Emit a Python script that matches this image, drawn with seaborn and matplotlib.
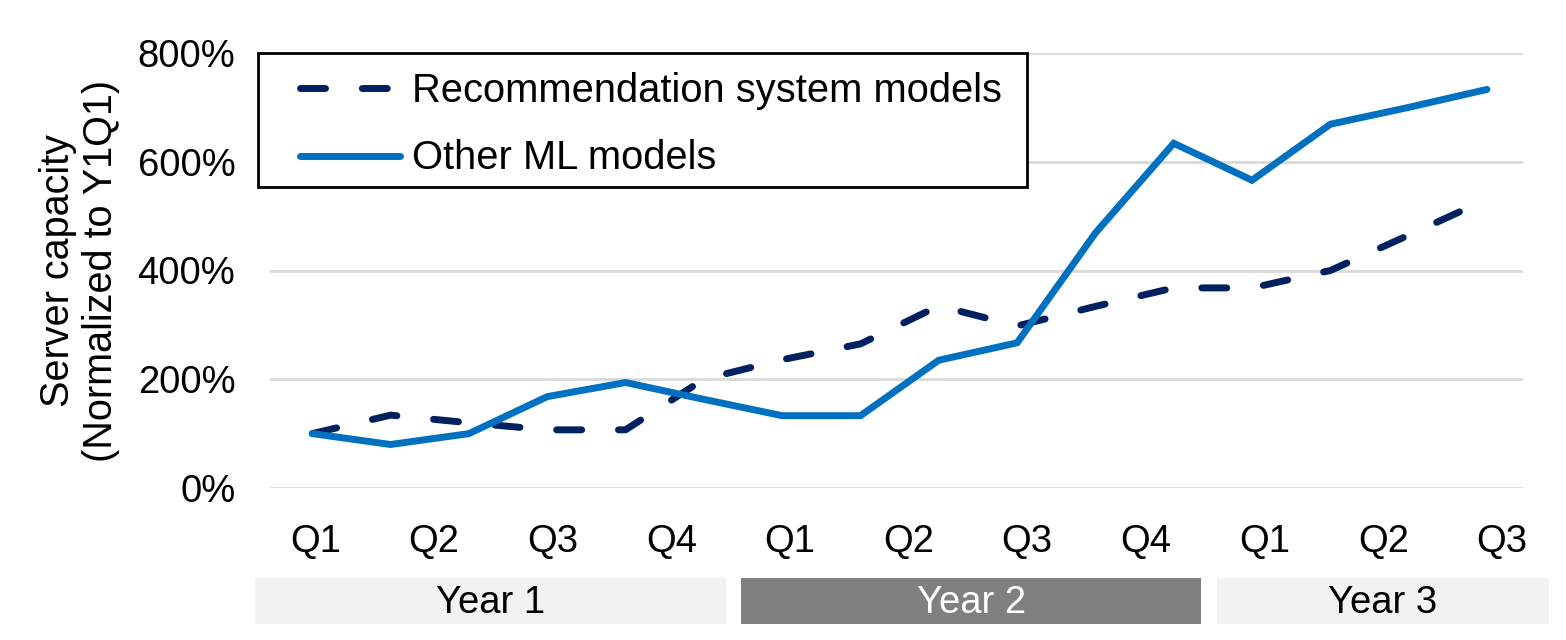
import numpy as np
import pandas as pd
import matplotlib
matplotlib.use("Agg")
import matplotlib.pyplot as plt
from matplotlib.patches import Rectangle
from matplotlib.lines import Line2D
import seaborn as sns

# ---------- DATA ----------
recsys = [100, 134, 120, 107, 107, 200, 236, 265, 335, 298, 334, 368, 368, 400, 465, 531]
other_ml = [100, 80, 100, 168, 194, 163, 133, 133, 235, 267, 469, 634, 566, 669, 700, 733]
quarter_labels = ["Q1", "Q2", "Q3", "Q4", "Q1", "Q2", "Q3", "Q4", "Q1", "Q2", "Q3"]
year_labels = ["Year 1", "Year 2", "Year 3"]
series_names = ["Recommendation system models", "Other ML models"]

# ---------- STYLE ----------
sns.set_style("white")
plt.rcParams["font.family"] = ["Liberation Sans", "DejaVu Sans"]
plt.rcParams["text.color"] = "black"
plt.rcParams["axes.labelcolor"] = "black"
plt.rcParams["xtick.color"] = "black"
plt.rcParams["ytick.color"] = "black"
FS = 27.5
FS_LEG = 28.7
NAVY = "#002060"
BLUE = "#0070C0"
DASH = (3.6, 5.3)

df = pd.DataFrame({
    "step": list(range(len(recsys))) * 2,
    "capacity": recsys + other_ml,
    "series": [series_names[0]] * len(recsys) + [series_names[1]] * len(other_ml),
})

fig = plt.figure(figsize=(15.66, 6.4), dpi=100)
ax = fig.add_axes([270 / 1566, 1 - 488 / 640, 1253 / 1566, 435 / 640])

sns.lineplot(data=df, x="step", y="capacity", hue="series", style="series",
             palette={series_names[0]: NAVY, series_names[1]: BLUE},
             dashes={series_names[0]: DASH, series_names[1]: ""},
             linewidth=5, legend=False, ax=ax,
             dash_capstyle="round", solid_capstyle="round", solid_joinstyle="miter")

ax.set_xlim(-0.54, 15.46)
ax.set_ylim(0, 800)
ax.set_yticks([0, 200, 400, 600, 800])
ax.set_yticklabels([f"{v}%" for v in [0, 200, 400, 600, 800]])
# quarter labels sit slightly off the data points in the original
ax.set_xticks(np.linspace(0.04, 15.19, len(quarter_labels)))
ax.set_xticklabels(quarter_labels)
ax.tick_params(axis="both", length=0, labelsize=FS, labelcolor="black")
ax.tick_params(axis="y", pad=25)
ax.tick_params(axis="x", pad=26)
ax.grid(axis="y", color="#d9d9d9", linewidth=2)
ax.grid(axis="x", visible=False)
sns.despine(ax=ax, left=True, bottom=True)
ax.set_xlabel("")
ax.set_ylabel("Server capacity\n(Normalized to Y1Q1)", fontsize=28.5, linespacing=1.17)
ax.yaxis.set_label_coords(-0.12, 0.5)

# ---------- LEGEND (frame drawn as a separate box) ----------
frame = Rectangle((-12 / 1253, 1 - 134 / 435), 769 / 1253, 134 / 435,
                  transform=ax.transAxes, facecolor="white", edgecolor="black",
                  linewidth=2, clip_on=False, zorder=3)
ax.add_patch(frame)
handles = [
    Line2D([], [], color=NAVY, linewidth=5, dashes=DASH, dash_capstyle="round"),
    Line2D([], [], color=BLUE, linewidth=5, solid_capstyle="round"),
]
leg = ax.legend(handles, series_names, loc="upper left", bbox_to_anchor=(30 / 1253, 1 - 19 / 435),
                frameon=False, fontsize=FS_LEG, handlelength=2.5, handletextpad=0.3,
                labelspacing=0.74, borderpad=0, borderaxespad=0)
leg.set_zorder(4)

# ---------- YEAR BANDS ----------
band_x = [(255, 726), (741, 1201), (1217, 1549)]
band_face = ["#f2f2f2", "#808080", "#f2f2f2"]
band_text = ["black", "white", "black"]
for (x0, x1), label, fc, tc in zip(band_x, year_labels, band_face, band_text):
    fig.add_artist(Rectangle((x0 / 1566, 1 - 624 / 640), (x1 - x0) / 1566, 46 / 640,
                             transform=fig.transFigure, facecolor=fc, edgecolor="none"))
    fig.text((x0 + x1) / 2 / 1566, 1 - 603 / 640, label, ha="center", va="center",
             fontsize=FS, color=tc)

fig.savefig("out.png", dpi=100)
